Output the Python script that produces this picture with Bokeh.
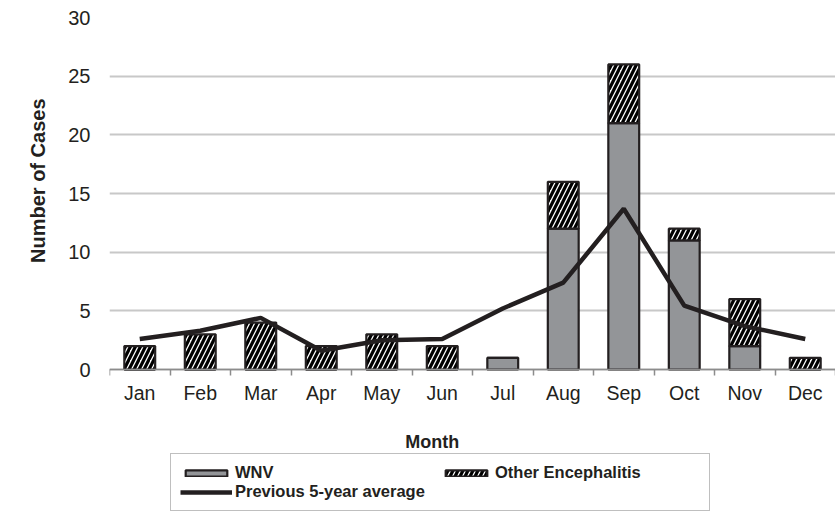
from bokeh.plotting import figure
from bokeh.models import (ColumnDataSource, FixedTicker, Legend, LegendItem, Range1d, Label, Title)
from bokeh.embed import file_html
from bokeh.resources import INLINE
import numpy as np

months = ["Jan", "Feb", "Mar", "Apr", "May", "Jun", "Jul", "Aug", "Sep", "Oct", "Nov", "Dec"]
wnv = [0, 0, 0, 0, 0, 0, 1, 12, 21, 11, 2, 0]
other = [2, 3, 4, 2, 3, 2, 0, 4, 5, 1, 4, 1]
avg5 = [2.6, 3.3, 4.4, 1.6, 2.5, 2.6, 5.2, 7.4, 13.7, 5.45, 3.7, 2.6]
y_ticks = [0, 5, 10, 15, 20, 25, 30]

FONT = "Liberation Sans"
DARK = "#231f20"

x = np.arange(len(months)) + 0.5
wnv_a = np.array(wnv, dtype=float)
other_a = np.array(other, dtype=float)
src = ColumnDataSource(dict(x=x, wnv=wnv_a, top=wnv_a + other_a, avg=avg5))

# frame spans the full lower area so the legend (inside the frame) is not clipped
p = figure(width=835, height=511, output_backend="svg", toolbar_location=None,
           x_range=Range1d(0, len(months)), y_range=Range1d(-12.1, 30),
           min_border_left=109, min_border_right=0, min_border_top=17, min_border_bottom=0)
p.outline_line_color = None
p.background_fill_color = "white"
p.border_fill_color = "white"

r_wnv = p.vbar(x="x", bottom=0, top="wnv", width=0.51, source=src,
               fill_color="#939598", line_color=DARK, line_width=2.2)
r_oth = p.vbar(x="x", bottom="wnv", top="top", width=0.51, source=src,
               fill_color="white", line_color=DARK, line_width=2.2,
               hatch_pattern="/", hatch_color="black", hatch_weight=3.2, hatch_scale=10)
r_line = p.line(x="x", y="avg", source=src, line_color=DARK, line_width=4.5)

# x axis, drawn at y = 0
xa = p.xaxis[0]
xa.fixed_location = 0
xa.ticker = FixedTicker(ticks=list(x), minor_ticks=list(range(len(months) + 1)))
xa.major_label_overrides = {float(v): m for v, m in zip(x, months)}
xa.major_tick_line_color = None
xa.major_tick_out = 0
xa.major_tick_in = 0
xa.minor_tick_out = 6
xa.minor_tick_in = 0
xa.minor_tick_line_color = "#8c8c8c"
xa.minor_tick_line_width = 1.5
xa.axis_line_color = "#8c8c8c"
xa.axis_line_width = 1.5
xa.major_label_text_font = FONT
xa.major_label_text_font_size = "19.5px"
xa.major_label_text_color = DARK
xa.major_label_standoff = 6

# y axis
ya = p.yaxis[0]
ya.ticker = FixedTicker(ticks=y_ticks)
ya.axis_line_color = None
ya.major_tick_line_color = None
ya.minor_tick_line_color = None
ya.major_tick_out = 0
ya.major_tick_in = 0
ya.major_label_text_font = FONT
ya.major_label_text_font_size = "20px"
ya.major_label_text_color = DARK
ya.major_label_standoff = 19

ytitle = Title(text="Number of Cases", align="right", offset=81, text_font=FONT,
               text_font_size="20px", text_font_style="bold", text_color=DARK, standoff=33)
p.add_layout(ytitle, "left")

p.xgrid.grid_line_color = None
p.ygrid.ticker = FixedTicker(ticks=y_ticks)
p.ygrid.grid_line_color = "#c8c8c8"
p.ygrid.grid_line_width = 2

month_title = Label(x=4.89, y=-6.14, text="Month", text_font=FONT, text_font_size="18px",
                    text_font_style="bold", text_color=DARK, text_align="left",
                    text_baseline="middle")
p.add_layout(month_title)

legend = Legend(items=[LegendItem(label="WNV", renderers=[r_wnv]),
                       LegendItem(label="Other Encephalitis", renderers=[r_oth]),
                       LegendItem(label="Previous 5-year average", renderers=[r_line])],
                orientation="horizontal", nrows=2, location=(61, 0),
                label_text_font=FONT, label_text_font_size="16.5px", label_text_font_style="bold",
                label_text_color=DARK, glyph_width=52, glyph_height=8, label_standoff=3,
                label_width=205, label_height=16, spacing=0, padding=9, margin=0,
                border_line_color="#7f7f7f", border_line_width=1.5,
                background_fill_color="white", background_fill_alpha=1)
p.add_layout(legend, "center")

open("out.html", "w").write(file_html(p, INLINE))
